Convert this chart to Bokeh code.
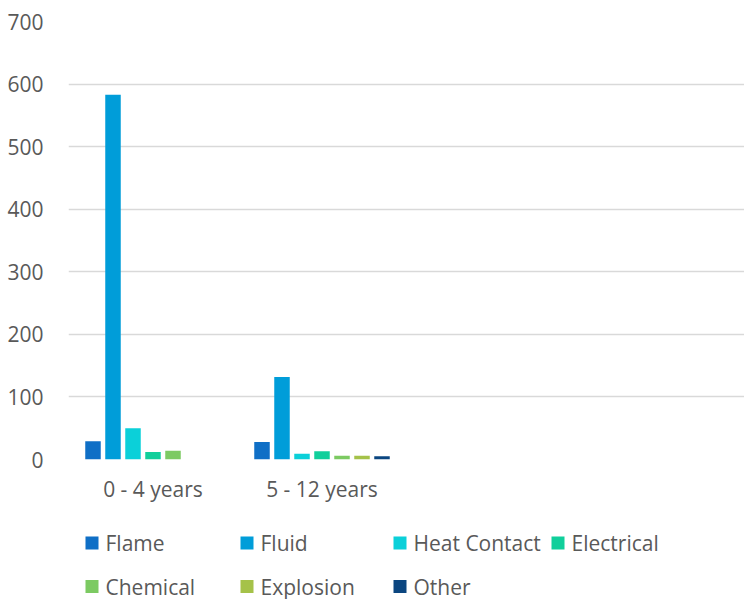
from bokeh.plotting import figure
from bokeh.layouts import column
from bokeh.models import ColumnDataSource, FactorRange, FixedTicker, Range1d
from bokeh.core.properties import value
from bokeh.transform import dodge
from bokeh.embed import file_html
from bokeh.resources import INLINE

# ---- data ----
categories = ["0 - 4 years", "5 - 12 years"]
empty_slots = [" ", "  "]
series = ["Flame", "Fluid", "Heat Contact", "Electrical", "Chemical", "Explosion", "Other"]
flame = [29, 28]
fluid = [583, 132]
heat_contact = [50, 9]
electrical = [12, 13]
chemical = [14, 6]
explosion = [0, 6]
other = [0, 5]
y_ticks = [0, 100, 200, 300, 400, 500, 600, 700]

colors = ["#0F6FC6", "#009DD9", "#0BD0D9", "#10CF9B", "#7CCA62", "#A5C249", "#0B4680"]
values = [flame, fluid, heat_contact, electrical, chemical, explosion, other]

src = ColumnDataSource(data=dict(cat=categories, **{s: v for s, v in zip(series, values)}))

W = 744
LEFT = 68
H_MAIN = 510
H_LEG = 89
FONT = "Open Sans"
TXT = "#595959"

p = figure(width=W, height=H_MAIN,
           x_range=FactorRange(factors=categories + empty_slots),
           y_range=Range1d(0, 700),
           output_backend="svg", toolbar_location=None,
           min_border_left=LEFT, min_border_right=0, min_border_top=21,
           min_border_bottom=H_MAIN - 459)
p.outline_line_color = None
p.background_fill_color = "white"

step = 20 / 169
bw = 15.5 / 169
for i, (name, col) in enumerate(zip(series, colors)):
    p.vbar(x=dodge("cat", (i - 3) * step, range=p.x_range), top=name, width=bw,
           source=src, fill_color=col, line_color=None)

p.xgrid.grid_line_color = None
p.ygrid.grid_line_color = "#d9d9d9"
p.ygrid.grid_line_width = 1.3
p.yaxis.ticker = FixedTicker(ticks=y_ticks)
for ax in (p.xaxis, p.yaxis):
    ax.axis_line_color = None
    ax.major_tick_line_color = None
    ax.minor_tick_line_color = None
    ax.major_tick_out = 0
    ax.major_tick_in = 0
    ax.major_label_text_font = FONT
    ax.major_label_text_font_size = "21px"
    ax.major_label_text_color = TXT
p.yaxis.major_label_standoff = 25
p.xaxis.major_label_standoff = 15

# ---- legend panel (spreadsheet-style grid: 4 columns, 2 rows) ----
# its frame spans page x from LEFT to W, so data x equals page x
leg = figure(width=W, height=H_LEG, x_range=Range1d(LEFT, W), y_range=Range1d(H_LEG, 0),
             output_backend="svg", toolbar_location=None,
             x_axis_location=None, y_axis_location=None,
             min_border_left=LEFT, min_border_right=0,
             min_border_top=0, min_border_bottom=0)
leg.outline_line_color = None
leg.xgrid.visible = False
leg.ygrid.visible = False

col_x = [85, 240, 393, 551]
row_y = [32.5, 76]
slots = [(0, 0), (1, 0), (2, 0), (3, 0), (0, 1), (1, 1), (2, 1)]
SQ = 13
lsrc = ColumnDataSource(data=dict(
    sx=[col_x[c] + SQ / 2 for c, r in slots],
    tx=[col_x[c] + SQ + 7 for c, r in slots],
    y=[row_y[r] for c, r in slots],
    name=series,
    color=colors,
))
leg.rect(x="sx", y="y", width=SQ, height=SQ, source=lsrc, fill_color="color", line_color=None)
leg.text(x="tx", y="y", text="name", source=lsrc, text_font=value(FONT),
         text_font_size="21px", text_color=TXT, text_baseline="middle", text_align="left")

layout = column(p, leg, spacing=0)
open("out.html", "w").write(file_html(layout, INLINE))
